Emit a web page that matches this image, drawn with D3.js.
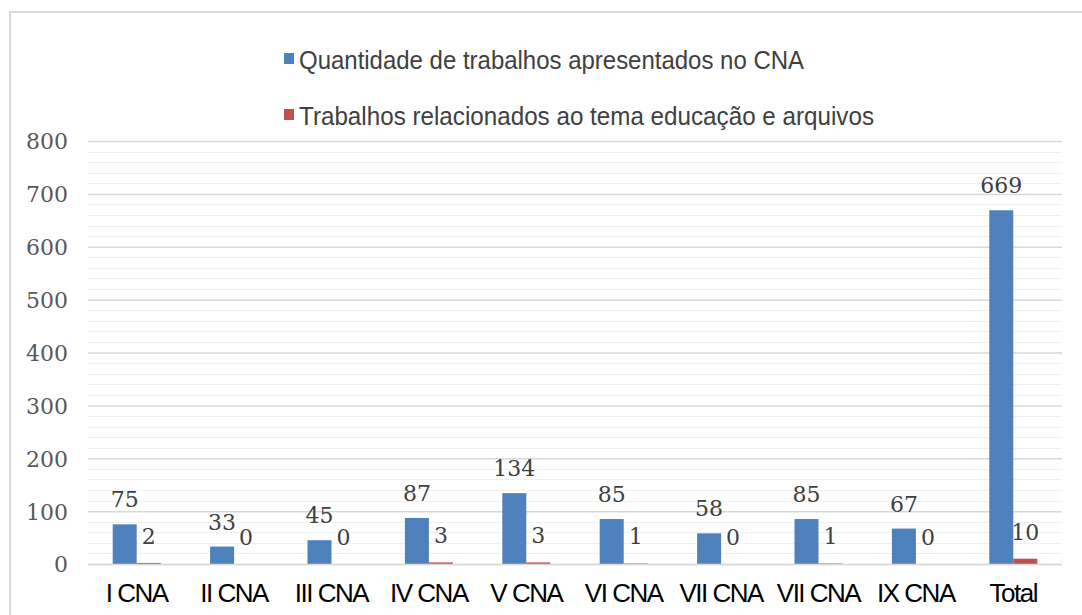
<!DOCTYPE html>
<html><head><meta charset="utf-8">
<script src="https://cdn.jsdelivr.net/npm/d3@7"></script>
<style>html,body{margin:0;padding:0;background:#fff}svg{display:block}</style>
</head><body>
<svg id="c" width="1082" height="615"></svg>
<script>
const categories = ["I CNA","II CNA","III CNA","IV CNA","V CNA","VI CNA","VII CNA","VII CNA","IX CNA","Total"];
const trabalhos = [75,33,45,87,134,85,58,85,67,669];
const educacao = [2,0,0,3,3,1,0,1,0,10];
const seriesNames = ["Quantidade de trabalhos apresentados no CNA","Trabalhos relacionados ao tema educação e arquivos"];
const yTicks = [0,100,200,300,400,500,600,700,800];
const colors = ["#4F81BD","#C0504D"];

(function(){
const svg = d3.select("#c");
svg.append("path").attr("d","M10,615 V12 H1082").attr("fill","none").attr("stroke","#d9d9d9").attr("stroke-width",2);

const pl=88, pr=1062, pt=141, pb=564;
const x = d3.scaleBand().domain(d3.range(categories.length)).range([pl,pr]);
const y = d3.scaleLinear().domain([0,800]).range([pb,pt]);
const bw = 24;

const minor = d3.range(0,801,20).filter(v=>v%100!==0);
svg.append("g").selectAll("line").data(minor).join("line")
  .attr("x1",pl).attr("x2",pr).attr("y1",d=>Math.round(y(d))+0.5).attr("y2",d=>Math.round(y(d))+0.5)
  .attr("stroke","#f0f0f0").attr("stroke-width",1);
const ax = svg.append("g").attr("transform",`translate(${pl},0)`)
  .call(d3.axisLeft(y).tickValues(yTicks).tickSize(-(pr-pl)).tickPadding(20));
ax.select(".domain").remove();
ax.selectAll(".tick line").attr("stroke","#d9d9d9").attr("stroke-width",1.5);
ax.selectAll(".tick text").attr("font-family","DejaVu Serif").attr("font-size",22).attr("fill","#595959").attr("x",-20).attr("dy","0.36em");

const g = svg.append("g");
categories.forEach((c,i)=>{
  const cx = x(i)+x.bandwidth()/2;
  g.append("rect").attr("x",cx-bw).attr("width",bw).attr("y",y(trabalhos[i])).attr("height",y(0)-y(trabalhos[i])).attr("fill",colors[0]);
  g.append("rect").attr("x",cx).attr("width",bw).attr("y",y(educacao[i])).attr("height",y(0)-y(educacao[i])).attr("fill",colors[1]);
  g.append("text").attr("x",cx-bw/2).attr("y",y(trabalhos[i])-17).attr("text-anchor","middle")
    .attr("font-family","DejaVu Serif").attr("font-size",22).attr("fill","#404040").text(trabalhos[i]);
  g.append("text").attr("x",cx+bw/2).attr("y",y(educacao[i])-19).attr("text-anchor","middle")
    .attr("font-family","DejaVu Serif").attr("font-size",22).attr("fill","#404040").text(educacao[i]);
});
svg.append("line").attr("x1",pl).attr("x2",pr).attr("y1",y(0)+0.5).attr("y2",y(0)+0.5).attr("stroke","#d9d9d9").attr("stroke-width",1.5);

const xa = svg.append("g").attr("transform",`translate(0,${pb})`)
  .call(d3.axisBottom(x).tickFormat(i=>categories[i]).tickSize(0).tickPadding(20));
xa.select(".domain").remove();
xa.selectAll("text").attr("font-family","Liberation Sans").attr("font-size",26).attr("fill","#000").attr("letter-spacing","-1.5px");

const lg = svg.append("g");
const base = [69,125];
const lw = [505,575];
seriesNames.forEach((s,i)=>{
  lg.append("rect").attr("x",284).attr("y",base[i]-16).attr("width",10).attr("height",11).attr("fill",colors[i]);
  lg.append("text").attr("x",299).attr("y",base[i]).attr("font-family","Liberation Sans").attr("font-size",26)
    .attr("fill","#404040").attr("textLength",lw[i]).attr("lengthAdjust","spacingAndGlyphs").text(s);
});
})();
</script>
</body></html>
